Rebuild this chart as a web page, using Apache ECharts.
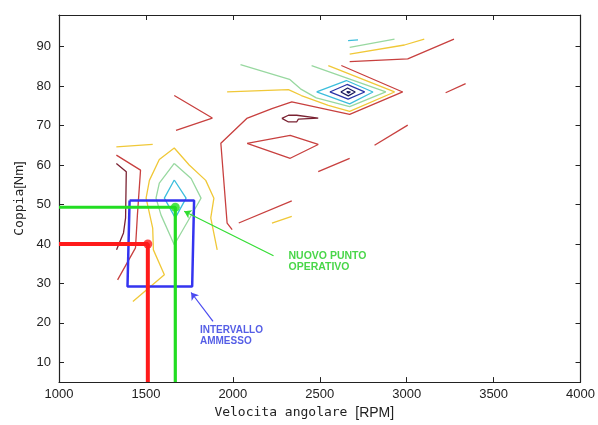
<!DOCTYPE html>
<html><head><meta charset="utf-8">
<script src="https://cdn.jsdelivr.net/npm/echarts@6/dist/echarts.min.js"></script>
<style>html,body{margin:0;padding:0;background:#fff}#c{width:598px;height:425px}</style>
</head><body><div id="c"></div>
<script>
// axes
const xTicks = [1000,1500,2000,2500,3000,3500,4000];
const yTicks = [10,20,30,40,50,60,70,80,90];
const xRange = [1000, 4000];
const yRange = [5, 98];

// contour polylines, [RPM, Nm]
const cyanTop = [[2663,91.5],[2720,91.7]];
const greenTop = [[2672,89.8],[2930,91.9]];
const yellowTop = [[2672,88.1],[2987,90.4],[3101,91.9]];
const redTop = [[2672,86.2],[3006,86.9],[3272,91.9]];
const navyDot = [[2655,78.6],[2666,78.9],[2676,78.5],[2664,78.2],[2655,78.6]];
const navyCore = [[2621,78.5],[2660,79.5],[2704,78.5],[2664,77.5],[2621,78.5]];
const blueRing = [[2558,78.5],[2657,80.4],[2758,78.5],[2663,76.7],[2558,78.5]];
const cyanRing = [[2482,78.5],[2653,81.4],[2806,78.5],[2672,75.5],[2482,78.5]];
const greenRing = [[2044,85.4],[2326,81.7],[2389,79.3],[2480,77],[2672,74.8],[2880,78.5],[2453,85.2]];
const yellowRing = [[1967,78.5],[2320,79.1],[2394,77.6],[2549,75.1],[2672,73.6],[2930,78.5],[2549,85.2]];
const redRing = [[2624,85.2],[2977,78.5],[2672,72.8],[2339,76],[2225,74.3],[2080,71.8],[1931,65.5],[1967,45.3],[1996,43.6]];
const maroonShape = [[2282,71.8],[2320,72.6],[2367,72.6],[2377,72.2],[2491,71.9],[2377,71.6],[2367,70.9],[2320,70.9],[2282,71.8]];
const redDiamond = [[2082,65.5],[2330,67.5],[2491,65.2],[2330,61.7],[2082,65.5]];
const redSegA = [[2491,58.3],[2672,61.7]];
const redSegB = [[2815,65],[3006,70.1]];
const redSegC = [[3224,78.3],[3339,80.6]];
const redSegD = [[2034,45.3],[2339,50.9]];
const yellowSeg = [[2225,45.3],[2339,47]];
const redChevron = [[1663,77.6],[1882,71.9],[1673,68.8]];
const yellowDash = [[1330,64.6],[1539,65.2]];
const yellowArc = [[1425,25.4],[1606,32.2],[1543,38.5],[1539,44],[1501,51.6],[1520,56.1],[1577,61.4],[1663,64.3],[1749,60],[1844,56.1],[1891,51.6],[1873,46.6],[1910,38.5]];
const greenLoop = [[1663,60.4],[1760,56.6],[1817,51.6],[1794,49.8],[1663,39.8],[1587,47.3],[1558,51.6],[1577,55.4],[1663,60.4]];
const cyanLoop = [[1663,56.2],[1731,51.6],[1669,46.6],[1606,51.6],[1663,56.2]];
const maroonLeft = [[1330,60.4],[1387,58.3],[1383,46.6],[1371,42.8],[1331,38.5]];
const redLeft = [[1330,62.5],[1469,58.7],[1451,47.3],[1440,39],[1337,30.9]];

// operating points and allowed interval
const oldPoint = [1511, 40];
const newPoint = [1669, 49.3];
const boxCorners = [[1406,51],[1777,51],[1766,29.2],[1394,29.2],[1406,51]];
const greenArrow = [[2234,37],[1720,48.3]];
const blueArrow = [[1886,20.4],[1760,27.7]];
const greenLabelAt = [2320,38.2];
const blueLabelAt = [1811,19.6];

const C = {
  maroon:'#7a2232', red:'#c8403f', yellow:'#f0c838', green:'#98d8a0',
  cyan:'#3cbedc', blue:'#2a36a8', navy:'#1c1c60'
};
const contours = [
  [redTop,C.red],[yellowTop,C.yellow],[greenTop,C.green],[cyanTop,C.cyan],
  [redRing,C.red],[yellowRing,C.yellow],[greenRing,C.green],[cyanRing,C.cyan],
  [blueRing,C.blue],[navyCore,C.navy],[navyDot,C.navy],
  [maroonShape,C.maroon],[redDiamond,C.red],[redSegA,C.red],[redSegB,C.red],
  [redSegC,C.red],[redSegD,C.red],[yellowSeg,C.yellow],[redChevron,C.red],
  [yellowDash,C.yellow],[yellowArc,C.yellow],[greenLoop,C.green],[cyanLoop,C.cyan],
  [maroonLeft,C.maroon],[redLeft,C.red]
];

const series = contours.map(([d,c]) => ({
  type:'line', data:d, showSymbol:false, silent:true, animation:false,
  lineStyle:{color:c, width:1.3}, z:2
}));

series.push({type:'line', data:[[xRange[0],oldPoint[1]],oldPoint,[oldPoint[0],yRange[0]]],
  showSymbol:false, animation:false, lineStyle:{color:'#ff1a1a', width:4}, z:5});
series.push({type:'line', data:[[xRange[0],newPoint[1]],newPoint,[newPoint[0],yRange[0]]],
  showSymbol:false, animation:false, lineStyle:{color:'#22dd22', width:3.2}, z:6});
series.push({type:'line', data:boxCorners, showSymbol:false, animation:false,
  lineStyle:{color:'#3434f0', width:2.5}, z:4});
series.push({type:'scatter', data:[oldPoint], symbolSize:9, itemStyle:{color:'#ff1a1a'}, z:7, animation:false});
series.push({type:'scatter', data:[newPoint], symbolSize:9, itemStyle:{color:'#22dd22'}, z:7, animation:false});
series.push({type:'lines', coordinateSystem:'cartesian2d', animation:false, z:6,
  symbol:['none','arrow'], symbolSize:7,
  lineStyle:{color:'#33dd33', width:1.2, opacity:1}, data:[{coords:greenArrow}]});
series.push({type:'lines', coordinateSystem:'cartesian2d', animation:false, z:6,
  symbol:['none','arrow'], symbolSize:7,
  lineStyle:{color:'#4a4af0', width:1.2, opacity:1}, data:[{coords:blueArrow}]});
series.push({type:'scatter', data:[greenLabelAt], symbolSize:0, animation:false, z:8,
  label:{show:true, position:[0,0], align:'left', verticalAlign:'top',
    formatter:'NUOVO PUNTO\nOPERATIVO', color:'#1ccc1c', fontWeight:'bold',
    fontSize:10.5, lineHeight:11, fontFamily:'Liberation Sans'}});
series.push({type:'scatter', data:[blueLabelAt], symbolSize:0, animation:false, z:8,
  label:{show:true, position:[0,0], align:'left', verticalAlign:'top',
    formatter:'INTERVALLO\nAMMESSO', color:'#2a36e0', fontWeight:'bold',
    fontSize:10, lineHeight:11, fontFamily:'Liberation Sans'}});

const axisLine = {show:true, onZero:false, lineStyle:{color:'#222', width:1.2}};
const tickStyle = {lineStyle:{color:'#222', width:1}};
const plain = v => String(v);
const chart = echarts.init(document.getElementById('c'), null, {renderer:'canvas'});
chart.setOption({
  animation:false,
  backgroundColor:'#fff',
  grid:{left:59, right:14, top:15, bottom:40, containLabel:false},
  xAxis:[{
    type:'value', min:xRange[0], max:xRange[1], interval:500,
    axisLine, splitLine:{show:false},
    axisTick:{show:true, inside:true, length:5, customValues:xTicks, ...tickStyle},
    axisLabel:{customValues:xTicks, formatter:plain, color:'#222', fontSize:13, margin:6, fontFamily:'Liberation Sans'},
    name:'{m|Velocita angolare }{s|[RPM]}', nameLocation:'middle', nameGap:21,
    nameTextStyle:{padding:[0,31,0,0], rich:{
      m:{fontFamily:'DejaVu Sans Mono', fontSize:13, color:'#222'},
      s:{fontFamily:'Liberation Sans', fontSize:14, color:'#222'}}}
  },{
    type:'value', position:'top', min:xRange[0], max:xRange[1], interval:500,
    axisLine, splitLine:{show:false}, axisLabel:{show:false},
    axisTick:{show:true, inside:true, length:5, customValues:xTicks, ...tickStyle}
  }],
  yAxis:[{
    type:'value', min:yRange[0], max:yRange[1],
    axisLine, splitLine:{show:false},
    axisTick:{show:true, inside:true, length:5, customValues:yTicks, ...tickStyle},
    axisLabel:{customValues:yTicks, formatter:plain, color:'#222', fontSize:13, margin:8, fontFamily:'Liberation Sans'},
    name:'{m|Coppia}{s|[Nm]}', nameLocation:'middle', nameGap:29, nameRotate:90,
    nameTextStyle:{rich:{
      m:{fontFamily:'DejaVu Sans Mono', fontSize:13, color:'#222'},
      s:{fontFamily:'Liberation Sans', fontSize:13, color:'#222'}}}
  },{
    type:'value', position:'right', min:yRange[0], max:yRange[1],
    axisLine, splitLine:{show:false}, axisLabel:{show:false},
    axisTick:{show:true, inside:true, length:5, customValues:yTicks, ...tickStyle}
  }],
  series
});
</script></body></html>
